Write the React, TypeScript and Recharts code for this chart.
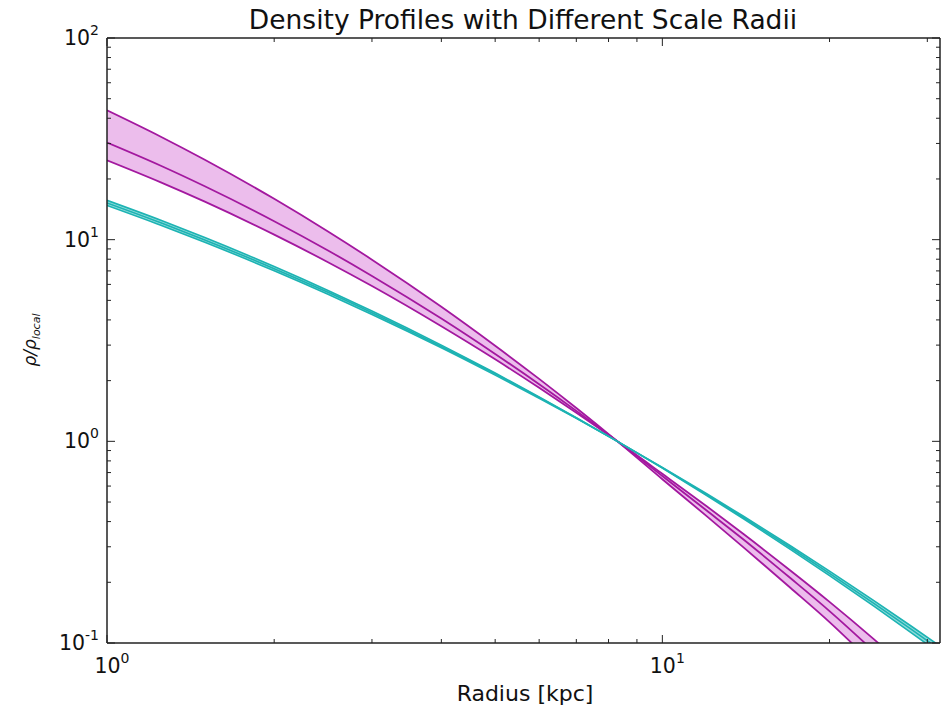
import { ComposedChart, Line, Area, XAxis, YAxis } from 'recharts'

// radius samples [kpc]
const radius = [1, 1.25, 1.5, 2, 2.5, 3, 4, 5, 6, 7, 8.3, 10, 12, 14, 17, 20, 24, 28, 31.62]

// magenta profiles (rho / rho_local)
const magentaTop = [43.8, 32.4, 24.9, 15.94, 10.98, 7.96, 4.65, 2.98, 2.04, 1.463, 1, 0.649, 0.427, 0.298, 0.188, 0.127, 0.0785, 0.0515, 0.0363]
const magentaMid = [30.3, 23.25, 18.39, 12.35, 8.84, 6.61, 4.06, 2.71, 1.919, 1.416, 1, 0.673, 0.455, 0.326, 0.21, 0.144, 0.0913, 0.0612, 0.0444]
const magentaLow = [24.75, 19.24, 15.43, 10.59, 7.73, 5.89, 3.72, 2.55, 1.842, 1.385, 1, 0.69, 0.478, 0.347, 0.229, 0.16, 0.1049, 0.0722, 0.0534]

// cyan profiles
const cyanTop = [15.67, 12.48, 10.25, 7.36, 5.6, 4.43, 3.0, 2.18, 1.661, 1.31, 1, 0.736, 0.54, 0.413, 0.2915, 0.2159, 0.1527, 0.113, 0.0887]
const cyanMid = [15.22, 12.13, 9.97, 7.18, 5.48, 4.34, 2.95, 2.16, 1.649, 1.305, 1, 0.74, 0.546, 0.419, 0.2977, 0.2216, 0.1577, 0.1174, 0.0926]
const cyanLow = [14.79, 11.8, 9.71, 7.01, 5.36, 4.26, 2.91, 2.13, 1.636, 1.3, 1, 0.743, 0.551, 0.425, 0.3036, 0.2272, 0.1627, 0.1218, 0.0965]

const xMajor = [1, 10]
const xTicks = [1, 2, 3, 4, 5, 6, 7, 8, 9, 10, 20, 30]
const yMajor = [0.1, 1, 10, 100]
const yTicks = [0.1, 0.2, 0.3, 0.4, 0.5, 0.6, 0.7, 0.8, 0.9, 1, 2, 3, 4, 5, 6, 7, 8, 9, 10, 20, 30, 40, 50, 60, 70, 80, 90, 100]

const data = radius.map((r, i) => ({
  r,
  mTop: magentaTop[i], mMid: magentaMid[i], mLow: magentaLow[i],
  cTop: cyanTop[i], cMid: cyanMid[i], cLow: cyanLow[i],
  mBand: [magentaLow[i], magentaTop[i]],
  cBand: [cyanLow[i], cyanTop[i]],
}))

const FONT = '"DejaVu Sans", sans-serif'
const MAG = '#a3189f'
const MAG_FILL = '#ecbdec'
const CYAN = '#1db3b3'
const CYAN_FILL = '#93dcdc'

const expOf = (v: number) => Math.round(Math.log10(v))

function Pow({ x, y, v, anchor }: { x: number; y: number; v: number; anchor: 'middle' | 'end' }) {
  return (
    <text x={x} y={y} textAnchor={anchor} fontFamily={FONT} fontSize={20.5} fill="#111">
      <tspan>10</tspan>
      <tspan dy={-10} fontSize={14}>{expOf(v)}</tspan>
    </text>
  )
}

function BottomTick(props: any) {
  const { x, y, payload } = props
  const major = xMajor.includes(payload.value)
  return (
    <g>
      <line x1={x} x2={x} y1={y} y2={y - (major ? 8 : 4)} stroke="#222" strokeWidth={1} />
      {major && <Pow x={x + 5} y={y + 30} v={payload.value} anchor="middle" />}
    </g>
  )
}

function TopTick(props: any) {
  const { x, y, payload } = props
  const major = xMajor.includes(payload.value)
  return <line x1={x} x2={x} y1={y} y2={y + (major ? 8 : 4)} stroke="#222" strokeWidth={1} />
}

function LeftTick(props: any) {
  const { x, y, payload } = props
  const major = yMajor.includes(payload.value)
  return (
    <g>
      <line x1={x} x2={x + (major ? 8 : 4)} y1={y} y2={y} stroke="#222" strokeWidth={1} />
      {major && <Pow x={x - 8} y={y + 7} v={payload.value} anchor="end" />}
    </g>
  )
}

function RightTick(props: any) {
  const { x, y, payload } = props
  const major = yMajor.includes(payload.value)
  return <line x1={x} x2={x - (major ? 8 : 4)} y1={y} y2={y} stroke="#222" strokeWidth={1} />
}

export default function App() {
  const axisLine = { stroke: '#222', strokeWidth: 1.5 }
  return (
    <div style={{ position: 'absolute', left: 0, top: 0, width: 943, height: 709, background: '#fff' }}>
      <ComposedChart width={943} height={709} data={data} margin={{ top: 37, right: 2, bottom: 0, left: 0 }}>
        <XAxis xAxisId="b" dataKey="r" type="number" scale="log" domain={[1, 31.62]} allowDataOverflow
          ticks={xTicks} interval={0} tickSize={0} tickMargin={0} tickLine={false} axisLine={axisLine}
          tick={<BottomTick />} height={66} />
        <XAxis xAxisId="t" orientation="top" dataKey="r" type="number" scale="log" domain={[1, 31.62]} allowDataOverflow
          ticks={xTicks} interval={0} tickSize={0} tickMargin={0} tickLine={false} axisLine={axisLine}
          tick={<TopTick />} height={1} />
        <YAxis yAxisId="l" type="number" scale="log" domain={[0.1, 100]} allowDataOverflow
          ticks={yTicks} interval={0} tickSize={0} tickMargin={0} tickLine={false} axisLine={axisLine}
          tick={<LeftTick />} width={107} />
        <YAxis yAxisId="r" orientation="right" type="number" scale="log" domain={[0.1, 100]} allowDataOverflow
          ticks={yTicks} interval={0} tickSize={0} tickMargin={0} tickLine={false} axisLine={axisLine}
          tick={<RightTick />} width={1} />

        <Area xAxisId="b" yAxisId="l" type="monotone" dataKey="mBand" stroke="none" fill={MAG_FILL} fillOpacity={1} isAnimationActive={false} />
        <Area xAxisId="b" yAxisId="l" type="monotone" dataKey="cBand" stroke="none" fill={CYAN_FILL} fillOpacity={1} isAnimationActive={false} />

        <Line xAxisId="b" yAxisId="l" type="monotone" dataKey="mTop" stroke={MAG} strokeWidth={1.8} dot={false} isAnimationActive={false} />
        <Line xAxisId="b" yAxisId="l" type="monotone" dataKey="mMid" stroke={MAG} strokeWidth={1.8} dot={false} isAnimationActive={false} />
        <Line xAxisId="b" yAxisId="l" type="monotone" dataKey="mLow" stroke={MAG} strokeWidth={1.8} dot={false} isAnimationActive={false} />
        <Line xAxisId="b" yAxisId="l" type="monotone" dataKey="cTop" stroke={CYAN} strokeWidth={1.6} dot={false} isAnimationActive={false} />
        <Line xAxisId="b" yAxisId="l" type="monotone" dataKey="cMid" stroke={CYAN} strokeWidth={1.6} dot={false} isAnimationActive={false} />
        <Line xAxisId="b" yAxisId="l" type="monotone" dataKey="cLow" stroke={CYAN} strokeWidth={1.6} dot={false} isAnimationActive={false} />
      </ComposedChart>

      <svg width={943} height={709} style={{ position: 'absolute', left: 0, top: 0, pointerEvents: 'none' }}>
        <text x={523} y={29} textAnchor="middle" fontFamily={FONT} fontSize={26.5} fill="#111">
          Density Profiles with Different Scale Radii
        </text>
        <text x={525} y={701} textAnchor="middle" fontFamily={FONT} fontSize={22} fill="#111">
          Radius [kpc]
        </text>
        <text transform="translate(36, 340) rotate(-90)" textAnchor="middle" fontFamily={FONT} fontStyle="italic" fontSize={17} fill="#111">
          <tspan>ρ/ρ</tspan>
          <tspan dy={4} fontSize={11}>local</tspan>
        </text>
      </svg>
    </div>
  )
}
